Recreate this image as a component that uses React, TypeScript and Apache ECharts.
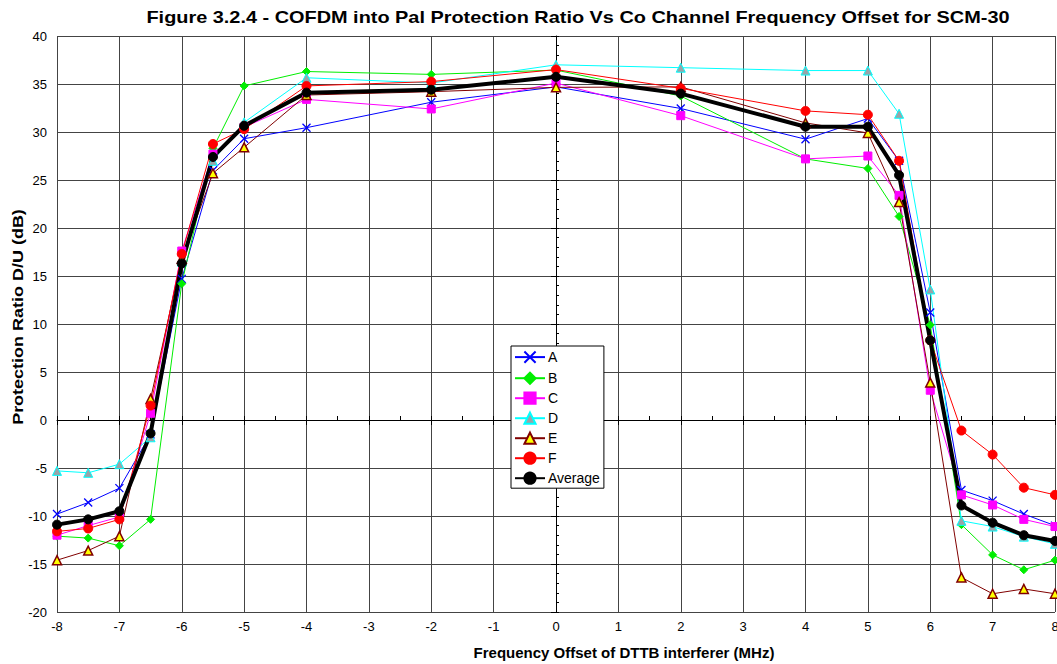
import React, { useEffect, useRef } from "react";
import * as echarts from "echarts";

// Frequency offsets (MHz) where protection ratio was measured
const offsets = [-8, -7.5, -7, -6.5, -6, -5.5, -5, -4, -2, 0, 2, 4, 5, 5.5, 6, 6.5, 7, 7.5, 8];

// Protection ratio D/U (dB) for each receiver
const seriesA = [-9.8, -8.6, -7.1, -1.5, 14.7, 26.0, 29.3, 30.45, 33.1, 34.7, 32.45, 29.25, 31.4, 27.0, 11.2, -7.3, -8.4, -9.8, -11.0];
const seriesB = [-12.1, -12.3, -13.1, -10.35, 14.2, 28.3, 34.8, 36.3, 36.0, 36.45, 33.75, 27.2, 26.2, 21.2, 9.9, -10.9, -14.05, -15.6, -14.6];
const seriesC = [-12.0, -11.0, -10.1, 0.7, 17.6, 27.7, 30.5, 33.4, 32.4, 35.1, 31.7, 27.2, 27.5, 23.4, 3.1, -7.8, -8.85, -10.35, -11.1];
const seriesD = [-5.3, -5.5, -4.6, -1.8, 16.5, 27.0, 31.0, 35.65, 35.1, 37.0, 36.7, 36.4, 36.4, 31.9, 13.6, -10.5, -11.1, -12.15, -12.9];
const seriesE = [-14.6, -13.6, -12.1, 2.2, 16.8, 25.7, 28.4, 33.85, 34.2, 34.65, 34.7, 30.95, 29.9, 22.7, 3.9, -16.4, -18.1, -17.6, -18.1];
const seriesF = [-11.6, -11.3, -10.35, 1.5, 17.3, 28.75, 30.3, 34.8, 35.25, 36.5, 34.55, 32.2, 31.8, 27.0, 8.3, -1.1, -3.6, -7.05, -7.8];
const seriesAvg = [-10.9, -10.35, -9.5, -1.4, 16.3, 27.4, 30.65, 34.1, 34.4, 35.75, 34.0, 30.55, 30.55, 25.5, 8.3, -8.9, -10.7, -12.0, -12.6];

const FONT = "'Liberation Sans', Arial, sans-serif";
const CROSS = "path://M0,0L10,10M10,0L0,10";
const GRID_COLOR = "#444444";

const pairs = (vals: number[]) => offsets.map((x, i) => [x, vals[i]]);

export default function App() {
  const ref = useRef<HTMLDivElement>(null);

  useEffect(() => {
    if (!ref.current) return;
    const chart = echarts.init(ref.current, undefined, { renderer: "svg" });

    const line = (
      name: string,
      vals: number[],
      color: string,
      symbol: string,
      symbolSize: number,
      fill: string,
      border: string,
      width = 1,
      borderWidth = 1
    ) => ({
      name,
      type: "line",
      data: pairs(vals),
      xAxisIndex: 0,
      yAxisIndex: 0,
      symbol,
      symbolSize,
      showAllSymbol: true,
      lineStyle: { color, width },
      itemStyle: { color: fill, borderColor: border, borderWidth },
      emphasis: { disabled: true },
      z: 2,
    });

    chart.setOption({
      animation: false,
      backgroundColor: "#ffffff",
      textStyle: { fontFamily: FONT },
      grid: {
        left: 57,
        top: 36,
        width: 998,
        height: 576,
        containLabel: false,
        outerBoundsMode: "none",
      },
      xAxis: [
        {
          type: "value",
          min: -8,
          max: 8,
          interval: 1,
          axisLine: { show: true, lineStyle: { color: "#000", width: 1 } },
          axisTick: { show: true, length: 5, lineStyle: { color: "#000" } },
          axisLabel: { color: "#000", fontSize: 13, fontFamily: FONT, margin: 8 },
          splitLine: { show: true, lineStyle: { color: GRID_COLOR, width: 1 } },
        },
        {
          type: "value",
          position: "bottom",
          offset: 0,
          min: -8,
          max: 8,
          interval: 0.5,
          axisLine: { show: false },
          axisTick: { show: true, inside: true, length: 4, lineStyle: { color: "#000" } },
          axisLabel: { show: false },
          splitLine: { show: false },
        },
      ],
      yAxis: [
        {
          type: "value",
          min: -20,
          max: 40,
          interval: 5,
          axisLine: { show: true, lineStyle: { color: "#000", width: 1 } },
          axisTick: { show: true, length: 5, lineStyle: { color: "#000" } },
          axisLabel: { color: "#000", fontSize: 13, fontFamily: FONT, margin: 10 },
          splitLine: { show: true, lineStyle: { color: GRID_COLOR, width: 1 } },
        },
        {
          type: "value",
          position: "left",
          offset: 0,
          min: -20,
          max: 40,
          interval: 1,
          axisLine: { show: false },
          axisTick: { show: true, inside: true, length: 3, lineStyle: { color: "#000" } },
          axisLabel: { show: false },
          splitLine: { show: false },
        },
      ],
      legend: {
        left: 511,
        top: 346,
        orient: "vertical",
        backgroundColor: "#fff",
        borderColor: "#000",
        borderWidth: 1,
        padding: [3, 4, 3, 3],
        itemWidth: 30,
        itemHeight: 14,
        itemGap: 6,
        textStyle: { color: "#000", fontSize: 14, fontFamily: FONT, padding: [0, 0, 0, -2] },
        data: ["A", "B", "C", "D", "E", "F", "Average"],
      },
      graphic: [
        {
          type: "text",
          x: 578,
          y: 17,
          scaleX: 1.17,
          style: {
            text: "Figure 3.2.4 - COFDM into Pal Protection Ratio Vs Co Channel Frequency Offset for SCM-30",
            font: `bold 17px ${FONT}`,
            fill: "#000",
            align: "center",
            verticalAlign: "middle",
          },
        },
        {
          type: "text",
          x: 624,
          y: 652,
          style: {
            text: "Frequency Offset of DTTB interferer (MHz)",
            font: `bold 15px ${FONT}`,
            fill: "#000",
            align: "center",
            verticalAlign: "middle",
          },
        },
        {
          type: "text",
          x: 18,
          y: 317,
          rotation: Math.PI / 2,
          scaleX: 1.2,
          style: {
            text: "Protection Ratio D/U (dB)",
            font: `bold 15px ${FONT}`,
            fill: "#000",
            align: "center",
            verticalAlign: "middle",
          },
        },
      ],
      series: [
        line("A", seriesA, "#0000ff", CROSS, 8, "none", "#0000ff", 1, 1.3),
        line("B", seriesB, "#00ee00", "diamond", 8, "#00ee00", "#00ee00"),
        line("C", seriesC, "#ff00ff", "rect", 8, "#ff00ff", "#ff00ff"),
        line("D", seriesD, "#00ffff", "triangle", 9, "#9aa4a8", "#00ffff"),
        line("E", seriesE, "#800000", "triangle", 9, "#ffff00", "#800000", 1, 1.5),
        line("F", seriesF, "#ff0000", "circle", 9, "#ff0000", "#ff0000"),
        line("Average", seriesAvg, "#000000", "circle", 9, "#000000", "#000000", 4),
      ],
    });

    return () => chart.dispose();
  }, []);

  return (
    <div
      ref={ref}
      style={{ position: "fixed", left: 0, top: 0, width: 1057, height: 664, background: "#fff" }}
    />
  );
}
